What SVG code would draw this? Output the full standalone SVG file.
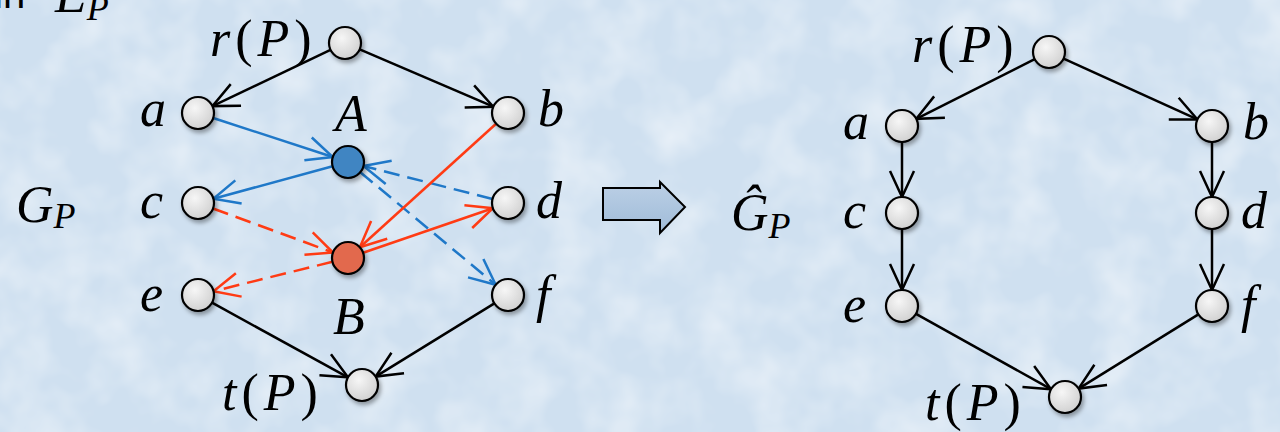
<svg xmlns="http://www.w3.org/2000/svg" width="1280" height="432" viewBox="0 0 1280 432">
<defs>
<filter id="tex" x="0" y="0" width="100%" height="100%">
<feTurbulence type="fractalNoise" baseFrequency="0.02" numOctaves="3" seed="4" result="n"/>
<feColorMatrix in="n" type="matrix" values="0 0 0 0 1  0 0 0 0 1  0 0 0 0 1  0 0 0 0.9 -0.35" result="w"/>
<feComposite in="w" in2="SourceGraphic" operator="in"/>
</filter>
<filter id="sh" x="-50%" y="-50%" width="200%" height="200%">
<feDropShadow dx="2" dy="3" stdDeviation="2" flood-color="#000" flood-opacity="0.35"/>
</filter>
<radialGradient id="ng" cx="40%" cy="35%" r="70%">
<stop offset="0" stop-color="#f6f6f6"/>
<stop offset="1" stop-color="#cfcfcf"/>
</radialGradient>
<linearGradient id="ag" x1="0" y1="0" x2="0" y2="1">
<stop offset="0" stop-color="#bcd0e6"/>
<stop offset="1" stop-color="#9fbbd8"/>
</linearGradient>
<marker id="mk" viewBox="-28 -15 30 30" markerWidth="30" markerHeight="30" refX="0" refY="0" orient="auto" markerUnits="userSpaceOnUse">
<path d="M-26,-12 L0,0 L-26,12" fill="none" stroke="#000" stroke-width="2.5"/>
</marker>
<marker id="mb" viewBox="-28 -15 30 30" markerWidth="30" markerHeight="30" refX="0" refY="0" orient="auto" markerUnits="userSpaceOnUse">
<path d="M-26,-12 L0,0 L-26,12" fill="none" stroke="#1f78c8" stroke-width="2.5"/>
</marker>
<marker id="mr" viewBox="-28 -15 30 30" markerWidth="30" markerHeight="30" refX="0" refY="0" orient="auto" markerUnits="userSpaceOnUse">
<path d="M-26,-12 L0,0 L-26,12" fill="none" stroke="#ff3b14" stroke-width="2.5"/>
</marker>
</defs>
<style>
.m{font-family:"Liberation Serif","DejaVu Serif",serif;font-style:italic;font-size:52px;fill:#000}
.w{letter-spacing:5px}
.u{font-style:normal}
.s{font-size:36px}
.n{fill:url(#ng);stroke:#000;stroke-width:2.2;filter:url(#sh)}
.k{stroke:#000;stroke-width:2.5;fill:none;marker-end:url(#mk)}
.b{stroke:#1f78c8;stroke-width:2.5;fill:none;marker-end:url(#mb)}
.r{stroke:#ff3b14;stroke-width:2.5;fill:none;marker-end:url(#mr)}
.d{stroke-dasharray:16 8}
</style>
<rect width="1280" height="432" fill="#cfe0f0"/>
<rect width="1280" height="432" fill="#cfe0f0" filter="url(#tex)"/>

<g id="title">
<text x="-6" y="8" font-family="Liberation Sans, sans-serif" font-size="40" fill="#000">in</text>
<text class="m" x="55" y="12">E<tspan class="s" dy="8">P</tspan></text>
</g>

<g id="connectors">
<line class="k" x1="330.5" y1="49.9" x2="212.4" y2="106.1"/>
<line class="k" x1="359.7" y1="49.3" x2="493.3" y2="106.7"/>
<line class="k" x1="212" y1="302.7" x2="348" y2="377.3"/>
<line class="k" x1="494.4" y1="303.4" x2="375.6" y2="376.6"/>
<line class="b" x1="213.2" y1="118" x2="332.8" y2="157"/>
<line class="b" x1="332.6" y1="166.2" x2="213.4" y2="198.8"/>
<line class="b d" x1="492.5" y1="199" x2="363.5" y2="166"/>
<line class="b d" x1="360.3" y1="172.2" x2="495.7" y2="284.8"/>
<line class="r" x1="496.1" y1="123.7" x2="359.9" y2="247.3"/>
<line class="r" x1="363.1" y1="252.8" x2="492.9" y2="208.2"/>
<line class="r d" x1="213" y1="208.5" x2="333" y2="252.5"/>
<line class="r d" x1="332.5" y1="261.8" x2="213.5" y2="291.2"/>
<line class="k" x1="1034.7" y1="59.2" x2="916.3" y2="118.8"/>
<line class="k" x1="1063.6" y1="58.6" x2="1197.4" y2="119.4"/>
<line class="k" x1="902" y1="142" x2="902" y2="197"/>
<line class="k" x1="902" y1="229" x2="902" y2="290"/>
<line class="k" x1="1212" y1="142" x2="1212" y2="197"/>
<line class="k" x1="1212" y1="229" x2="1212" y2="290"/>
<line class="k" x1="916" y1="313.8" x2="1051" y2="389.2"/>
<line class="k" x1="1198.4" y1="314.4" x2="1078.6" y2="388.6"/>
</g>

<g id="L-r"><circle class="n" cx="345" cy="43" r="16"/><text class="m w" x="210" y="56">r<tspan class="u">(</tspan>P<tspan class="u">)</tspan></text></g>
<g id="L-a"><circle class="n" cx="198" cy="113" r="16"/><text class="m" x="140" y="126">a</text></g>
<g id="L-b"><circle class="n" cx="508" cy="113" r="16"/><text class="m" x="538" y="126">b</text></g>
<g id="L-A"><circle class="n" cx="348" cy="162" r="16" style="fill:#3f85c2"/><text class="m" x="335" y="131">A</text></g>
<g id="L-c"><circle class="n" cx="198" cy="203" r="16"/><text class="m" x="140" y="218">c</text></g>
<g id="L-d"><circle class="n" cx="508" cy="203" r="16"/><text class="m" x="536" y="218">d</text></g>
<g id="L-B"><circle class="n" cx="348" cy="258" r="16" style="fill:#e2694d"/><text class="m" x="333" y="334">B</text></g>
<g id="L-e"><circle class="n" cx="198" cy="295" r="16"/><text class="m" x="140" y="311">e</text></g>
<g id="L-f"><circle class="n" cx="508" cy="295" r="16"/><text class="m" x="536" y="312">f</text></g>
<g id="L-t"><circle class="n" cx="362" cy="385" r="16"/><text class="m w" x="222" y="410">t<tspan class="u">(</tspan>P<tspan class="u">)</tspan></text></g>
<g id="GP"><text class="m" x="16" y="222">G<tspan class="s" dy="6">P</tspan></text></g>

<g id="arrow"><path d="M603,188 H660 V182 L685,207 L660,233 V220 H603 Z" fill="url(#ag)" stroke="#000" stroke-width="2"/></g>

<g id="GhatP"><text class="m" x="731" y="230">Ĝ<tspan class="s" dy="8">P</tspan></text></g>

<g id="R-r"><circle class="n" cx="1049" cy="52" r="16"/><text class="m w" x="912" y="62">r<tspan class="u">(</tspan>P<tspan class="u">)</tspan></text></g>
<g id="R-a"><circle class="n" cx="902" cy="126" r="16"/><text class="m" x="843" y="139">a</text></g>
<g id="R-b"><circle class="n" cx="1212" cy="126" r="16"/><text class="m" x="1243" y="139">b</text></g>
<g id="R-c"><circle class="n" cx="902" cy="213" r="16"/><text class="m" x="843" y="228">c</text></g>
<g id="R-d"><circle class="n" cx="1212" cy="213" r="16"/><text class="m" x="1241" y="228">d</text></g>
<g id="R-e"><circle class="n" cx="902" cy="306" r="16"/><text class="m" x="843" y="322">e</text></g>
<g id="R-f"><circle class="n" cx="1212" cy="306" r="16"/><text class="m" x="1241" y="322">f</text></g>
<g id="R-t"><circle class="n" cx="1065" cy="397" r="16"/><text class="m w" x="925" y="420">t<tspan class="u">(</tspan>P<tspan class="u">)</tspan></text></g>
</svg>
